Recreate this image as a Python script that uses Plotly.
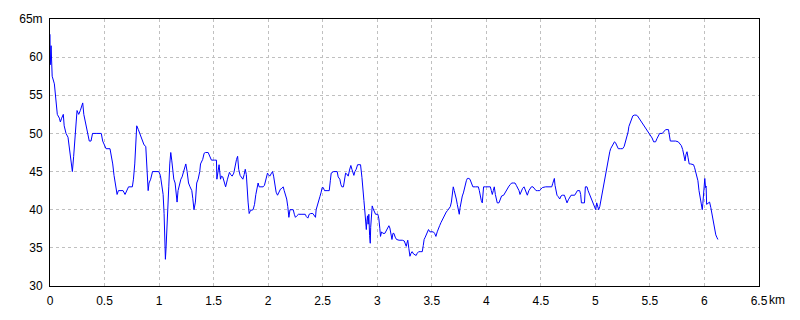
import plotly.graph_objects as go

dist_km = [
    0, 0.002, 0.01, 0.02, 0.04, 0.055, 0.067, 0.086, 0.095, 0.107, 0.122, 0.13, 0.147, 0.165, 0.18, 0.193,
    0.205, 0.217, 0.23, 0.24, 0.248, 0.263, 0.278, 0.287, 0.3, 0.31, 0.324, 0.34, 0.352, 0.36, 0.376, 0.39,
    0.43, 0.47, 0.483, 0.5, 0.514, 0.55, 0.563, 0.575, 0.587, 0.6, 0.615, 0.627, 0.648, 0.67, 0.688, 0.706,
    0.72, 0.755, 0.765, 0.777, 0.789, 0.795, 0.81, 0.823, 0.835, 0.85, 0.862, 0.878, 0.887, 0.9, 0.908,
    0.923, 0.94, 0.98, 0.997, 1.012, 1.024, 1.037, 1.046, 1.052, 1.058, 1.064, 1.07, 1.08, 1.089, 1.098,
    1.107, 1.116, 1.125, 1.135, 1.147, 1.156, 1.165, 1.174, 1.187, 1.2, 1.211, 1.223, 1.235, 1.245, 1.257,
    1.27, 1.284, 1.3, 1.309, 1.32, 1.333, 1.345, 1.358,
    1.373, 1.38, 1.4, 1.413, 1.425, 1.45, 1.465, 1.48, 1.51, 1.526, 1.53, 1.54, 1.55, 1.563, 1.572, 1.584,
    1.596, 1.61, 1.627, 1.645, 1.657, 1.67, 1.685, 1.697, 1.71, 1.72, 1.725, 1.73, 1.743, 1.755, 1.768,
    1.78, 1.79, 1.8, 1.807, 1.816, 1.826, 1.838, 1.862, 1.875, 1.887, 1.9, 1.908, 1.917, 1.954,
    1.966, 1.98, 1.994, 2.003, 2.015, 2.027, 2.04, 2.05, 2.06, 2.073, 2.086, 2.098, 2.113, 2.125, 2.138,
    2.147, 2.16, 2.17, 2.18, 2.19, 2.2, 2.23, 2.24, 2.25, 2.263, 2.278, 2.31, 2.34, 2.35, 2.364, 2.376,
    2.39, 2.41, 2.42, 2.434, 2.44, 2.45, 2.462, 2.474, 2.486, 2.495, 2.505, 2.517, 2.54, 2.56, 2.57, 2.578,
    2.6, 2.633, 2.642, 2.657, 2.667, 2.676, 2.69, 2.7, 2.71, 2.72, 2.734, 2.746, 2.758, 2.768, 2.777,
    2.786, 2.795, 2.807, 2.82, 2.847, 2.86, 2.87, 2.878, 2.887, 2.893, 2.9, 2.905, 2.911, 2.917, 2.923,
    2.93, 2.936, 2.94, 2.948,
    2.954, 2.963, 2.972, 2.985, 3.006, 3.015, 3.024, 3.03, 3.04, 3.052, 3.07, 3.083, 3.095, 3.107, 3.116,
    3.125, 3.135, 3.144, 3.153, 3.165, 3.177, 3.2, 3.23, 3.248, 3.257, 3.266, 3.272, 3.28, 3.29, 3.3, 3.31,
    3.32, 3.333, 3.345, 3.357, 3.367, 3.38, 3.4, 3.413, 3.422, 3.43, 3.44, 3.452, 3.462, 3.47, 3.483, 3.5,
    3.514, 3.526, 3.538, 3.55, 3.56, 3.572, 3.584, 3.596, 3.608, 3.62, 3.633, 3.645, 3.657, 3.67, 3.68,
    3.688, 3.697, 3.706, 3.716, 3.725, 3.734, 3.743, 3.752, 3.76, 3.77, 3.78, 3.79, 3.8, 3.807, 3.817,
    3.826, 3.84, 3.85, 3.862, 3.877, 3.9, 3.927,
    3.936, 3.945, 3.954, 3.963, 3.97, 3.975, 3.994, 4.018, 4.037, 4.046, 4.055, 4.064, 4.073, 4.083, 4.092,
    4.1, 4.116, 4.128, 4.14, 4.159, 4.171, 4.183, 4.196, 4.208, 4.22, 4.232, 4.248, 4.263, 4.275, 4.287,
    4.3, 4.309, 4.321, 4.333, 4.346, 4.355, 4.364, 4.376, 4.39, 4.4, 4.413, 4.428, 4.443, 4.456, 4.47,
    4.49, 4.5, 4.514, 4.544, 4.575, 4.6, 4.608, 4.618, 4.624, 4.63, 4.64, 4.648, 4.66, 4.673, 4.685, 4.697,
    4.716, 4.728, 4.74, 4.752, 4.765, 4.777, 4.795, 4.81, 4.823, 4.835, 4.856, 4.865, 4.872, 4.9,
    4.908, 4.923, 4.933, 4.945, 4.957, 4.97, 4.98, 4.994, 5.003, 5.012, 5.02, 5.03, 5.04, 5.05, 5.058,
    5.067, 5.077, 5.086, 5.095, 5.104, 5.113, 5.123, 5.132, 5.14, 5.153, 5.163, 5.175, 5.184, 5.196, 5.21,
    5.23, 5.25, 5.264, 5.276, 5.29, 5.3, 5.307, 5.32, 5.33, 5.343, 5.356, 5.374, 5.386, 5.4, 5.414, 5.43,
    5.445, 5.46, 5.475, 5.49, 5.506, 5.52, 5.534, 5.552, 5.564, 5.577, 5.589, 5.613, 5.629, 5.644, 5.67,
    5.678, 5.687, 5.712, 5.736, 5.76, 5.773, 5.788, 5.8, 5.812, 5.822, 5.83, 5.84, 5.85, 5.86, 5.874, 5.9,
    5.91, 5.92, 5.932, 5.94, 5.95, 5.96, 5.97, 5.98, 5.985, 5.99, 5.997, 6.003, 6.01, 6.015, 6.02, 6.03,
    6.04, 6.047, 6.058, 6.067, 6.077, 6.086, 6.095, 6.104, 6.113, 6.123,
]

elev_m = [
    63, 59, 61.5, 57.5, 56.5, 54, 52.5, 52, 51.5, 52, 52.5, 51, 50, 49.5, 48, 46.5,
    45, 47, 49, 51.5, 53, 52.5, 53, 53.5, 54, 52.5, 51.5, 50.5, 49.5, 49, 49, 50,
    50, 50, 49, 48.3, 48, 48, 47, 46, 44.5, 43, 42, 42.5, 42.5, 42.5, 42, 42.7,
    43, 43, 44, 46, 48.5, 51, 50.5, 50, 49.5, 49, 48.5, 48.3, 45.5, 42.5, 43.5,
    44, 45, 45, 45, 44.5, 43, 42, 39.5, 35.5, 33.5, 35, 37.5, 40, 43, 46,
    47.5, 46.5, 45, 44, 43.5, 42, 41, 42.5, 43.5, 44, 44.3, 45, 45.5, 46, 45,
    43.5, 43, 42.5, 41.5, 40, 41, 43.5, 44,
    45, 46, 46.6, 47.4, 47.5, 47.5, 46.9, 46.5, 46.5, 46.5, 44, 45.3, 45.9, 44, 44.4, 44.3,
    43.8, 43, 44, 44.9, 44.6, 44.4, 44.8, 45.9, 46.6, 47, 46.1, 45.3, 44.5, 44.2, 44,
    44.6, 45.3, 44.6, 42.3, 41, 39.5, 39.9, 40, 40.7, 42, 42.9, 43.5, 43, 43,
    43.2, 44, 44.8, 44.6, 44.4, 44.7, 45, 44.4, 43.1, 42.3, 41.9, 42.3, 42.7, 42.8, 43,
    42.5, 42, 41.4, 40.4, 39, 40, 40, 39.4, 39, 39.2, 39.4, 39.4, 39.4, 39.1, 38.9, 39.4,
    39.5, 39.5, 39.2, 39, 40, 40.6, 41.1, 41.7, 42.3, 42.9, 42.9, 42.5, 42.5, 42.5, 43.8, 44.8,
    45, 45, 44.3, 44, 43.3, 43, 43, 44.2, 44.8, 44.7, 44.4, 45.2, 45.8, 45.3, 44.8,
    44.5, 45, 45.3, 45.9, 45.9, 44.2, 42.9, 41.2, 39.7, 38.1, 37.4, 38.5, 39.2, 38.1, 39.4,
    36.6, 35.6, 37.7, 39.2,
    40.5, 40.1, 39.7, 39.4, 39.4, 38.8, 37.5, 36.5, 37.1, 36.9, 36.9, 37.3, 37.6, 37.9, 37.6,
    36.9, 36.1, 36.9, 36.9, 36.4, 36.1, 36, 36, 35.9, 35.4, 35.2, 35.6, 36, 34.9, 33.9, 34.3,
    34.5, 34.2, 34.1, 34, 34.3, 34.5, 34.5, 34.5, 35.3, 36.1, 36.4, 36.9, 37.2, 37.4, 37.1, 37.1,
    37.1, 36.9, 36.5, 37.1, 37.6, 37.9, 38.3, 38.7, 39, 39.3, 39.7, 39.9, 40.1, 40.4, 41,
    42, 43, 42.5, 42, 41.4, 40.7, 40.1, 39.4, 40.3, 41.2, 41.8, 42.2, 42.9, 43.4, 43.8,
    44.1, 44.1, 44, 43.4, 43, 43, 43,
    42.5, 41.6, 41.2, 40.9, 41.8, 43, 43, 43, 43, 42.5, 42, 42.5, 43, 42, 41.4,
    40.9, 40.9, 41.4, 41.8, 41.9, 42.2, 42.5, 42.9, 43.1, 43.3, 43.5, 43.5, 43.5, 43.2, 42.9,
    42.5, 42, 42.5, 42.8, 43, 42.7, 42.2, 41.9, 42.5, 42.8, 43, 43, 42.8, 42.5, 42.5,
    42.5, 42.7, 42.9, 43, 43, 43, 43.4, 43.8, 44.1, 43.2, 42.2, 41.9, 41.7, 41.4, 41.8, 41.9,
    41.9, 41.4, 40.9, 41.3, 41.7, 41.9, 41.9, 41.9, 42.2, 42.5, 42.5, 42, 40.9, 40.9,
    43, 43, 42.5, 42.1, 41.7, 41.3, 40.8, 40.3, 40, 40.9, 40.6, 40, 40.4, 41.2, 42.1,
    42.9, 43.6, 44.3, 45.1, 45.7, 46.4, 47, 47.6, 48, 48.3, 48.7, 48.9, 48.8, 48.4, 48,
    48, 48, 48.3, 48.9, 49.6, 50.2, 50.9, 51.5, 52, 52.3, 52.4, 52.4, 52.3, 52, 51.7, 51.4,
    51.1, 50.7, 50.3, 50, 49.7, 49.4, 48.9, 48.9, 49.3, 49.7, 50, 50, 50.3, 50.5, 50.5,
    50, 49, 49, 49, 48.9, 48.6, 48.4, 47.9, 47, 46.4, 47.2, 47.6, 46.8, 46, 46, 45.9,
    45.5, 45, 44.5, 43.8, 42.5, 41.6, 40.9, 40, 40.8, 41.6, 43.3, 44.1, 42.9, 43.1, 40.7, 40.8,
    40.9, 41, 40.3, 39.5, 38.6, 37.9, 37.3, 36.7, 36.4, 36.1,
]

x_ticks = [0, 0.5, 1, 1.5, 2, 2.5, 3, 3.5, 4, 4.5, 5, 5.5, 6, 6.5]
x_labels = ["0", "0.5", "1", "1.5", "2", "2.5", "3", "3.5", "4", "4.5", "5", "5.5", "6", "6.5"]
x_unit = "km"
y_ticks = [30, 35, 40, 45, 50, 55, 60, 65]
y_labels = ["30", "35", "40", "45", "50", "55", "60", "65m"]

font_family = "Liberation Sans Narrow, Liberation Sans, Arial, sans-serif"

fig = go.Figure(
    go.Scatter(x=dist_km, y=elev_m, mode="lines", line=dict(color="#0000ff", width=1), hoverinfo="skip")
)

axis_common = dict(
    showgrid=True, gridcolor="#c0c0c0", gridwidth=1, griddash="3px,3px",
    showline=True, linecolor="black", linewidth=1, mirror=True,
    zeroline=False, ticks="outside", ticklen=4, tickcolor="rgba(0,0,0,0)",
    tickfont=dict(family=font_family, size=12, color="black"),
)

fig.update_xaxes(range=[0, 6.5], tickmode="array", tickvals=x_ticks, ticktext=x_labels, **axis_common)
fig.update_yaxes(range=[30, 65], tickmode="array", tickvals=y_ticks, ticktext=y_labels, **axis_common)

fig.add_annotation(
    x=x_ticks[-1], xref="x", y=0, yref="paper", text=x_unit, showarrow=False,
    xanchor="left", yanchor="top", xshift=8, yshift=-5,
    font=dict(family=font_family, size=12, color="black"),
)

fig.update_layout(
    width=800, height=320,
    margin=dict(l=50, r=41, t=19, b=30, pad=0),
    paper_bgcolor="white", plot_bgcolor="white",
    showlegend=False,
)

fig.write_html("out.html")
